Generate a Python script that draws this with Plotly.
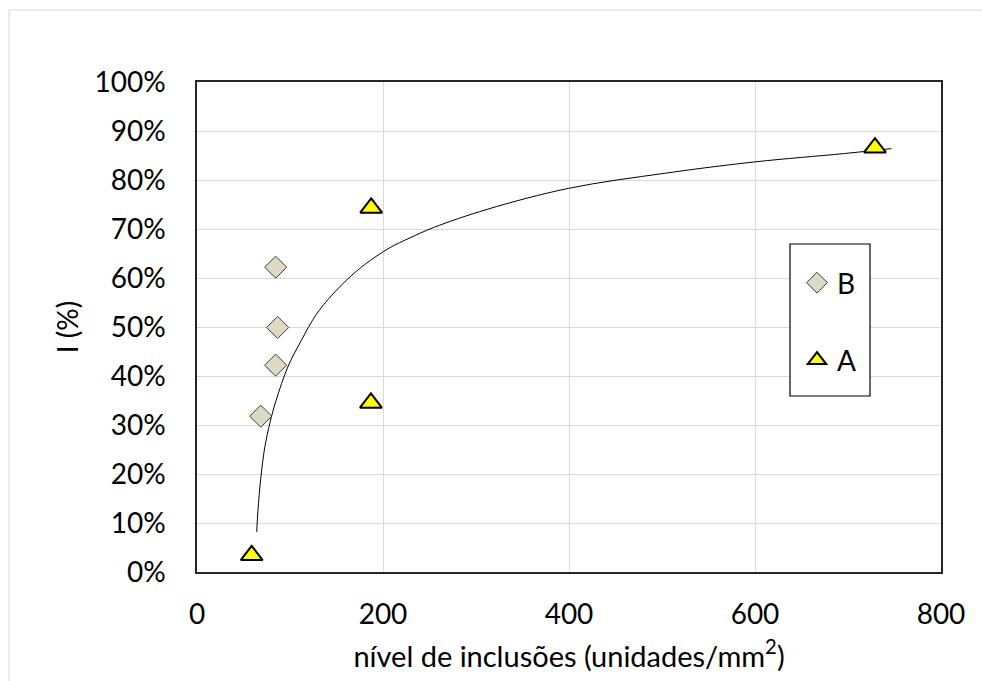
import plotly.graph_objects as go

# Series B (diamonds)
b_x = [84.6, 86.7, 84.6, 68.5]
b_y = [0.622, 0.499, 0.422, 0.318]

# Series A (triangles)
a_x = [58.8, 187.3, 187.0, 729.0]
a_y = [0.034, 0.743, 0.345, 0.866]

# Trend curve
trend_x = [64.2, 65.5, 68.5, 73.0, 78.5, 85.0, 98.0, 112.0, 128.0, 145.0, 161.0,
           180.0, 207.5, 228.0, 254.4, 311.8, 399.6, 504.0, 600.0, 696.0, 746.7]
trend_y = [0.082, 0.125, 0.190, 0.256, 0.305, 0.350, 0.420, 0.472, 0.525, 0.565, 0.596,
           0.627, 0.662, 0.681, 0.703, 0.740, 0.783, 0.814, 0.837, 0.854, 0.864]

x_ticks = [0, 200, 400, 600, 800]
y_ticks = [0, 0.1, 0.2, 0.3, 0.4, 0.5, 0.6, 0.7, 0.8, 0.9, 1.0]

FONT = "Lato"

fig = go.Figure()
fig.add_trace(go.Scatter(
    x=trend_x, y=trend_y, mode="lines",
    line=dict(color="black", width=1, shape="spline", smoothing=1),
    showlegend=False, hoverinfo="skip"))
fig.add_trace(go.Scatter(
    x=b_x, y=b_y, mode="markers", name="B", legendgroup="B", legendrank=1,
    marker=dict(symbol="diamond", size=17, color="#ddd9c4", line=dict(color="#3a3a3a", width=1))))
fig.add_trace(go.Scatter(
    x=a_x, y=a_y, mode="markers", name="A", legendgroup="A", legendrank=2,
    marker=dict(symbol="triangle-up", size=19, color="#ffff00", line=dict(color="black", width=2))))

L, R, T, B = 197, 41, 82, 109
W, H = 982, 681
pw, ph = W - L - R, H - T - B

def px_x(p):
    return (p - L) / pw

def px_y(p):
    return (H - B - p) / ph

# outer chart frame
fig.add_shape(type="rect", xref="paper", yref="paper",
              x0=px_x(9), x1=px_x(995), y0=px_y(700), y1=px_y(10),
              line=dict(color="#d9d9d9", width=1), fillcolor="rgba(0,0,0,0)", layer="below")
# legend box
fig.add_shape(type="rect", xref="paper", yref="paper",
              x0=px_x(790), x1=px_x(870), y0=px_y(396), y1=px_y(244),
              line=dict(color="black", width=1.2), fillcolor="white", layer="above")

fig.update_layout(
    width=W, height=H,
    margin=dict(l=L, r=R, t=T, b=B),
    paper_bgcolor="white", plot_bgcolor="white",
    font=dict(family=FONT, size=28, color="black"),
    showlegend=True,
    legend=dict(x=px_x(797), y=px_y(258), xanchor="left", yanchor="top",
                borderwidth=0, bgcolor="rgba(0,0,0,0)",
                tracegroupgap=38, traceorder="grouped",
                font=dict(family=FONT, size=28, color="black")),
    xaxis=dict(range=[0, 800], tickvals=x_ticks, ticktext=[str(v) for v in x_ticks],
               showgrid=True, gridcolor="#d9d9d9", gridwidth=1.3,
               showline=True, linecolor="#262626", linewidth=1.5, mirror=True,
               zeroline=False, ticks="", ticklabelstandoff=17,
               title=dict(text="nível de inclusões (unidades/mm<sup>2</sup>)",
                          font=dict(family=FONT, size=29), standoff=17)),
    yaxis=dict(range=[0, 1], tickvals=y_ticks,
               ticktext=[f"{int(round(v*100))}%" for v in y_ticks],
               showgrid=True, gridcolor="#d9d9d9", gridwidth=1.3,
               showline=True, linecolor="#262626", linewidth=1.5, mirror=True,
               zeroline=False, ticks="", ticklabelstandoff=24,
               title=dict(text="I (%)", font=dict(family=FONT, size=28), standoff=8)),
)

fig.write_html("out.html")
